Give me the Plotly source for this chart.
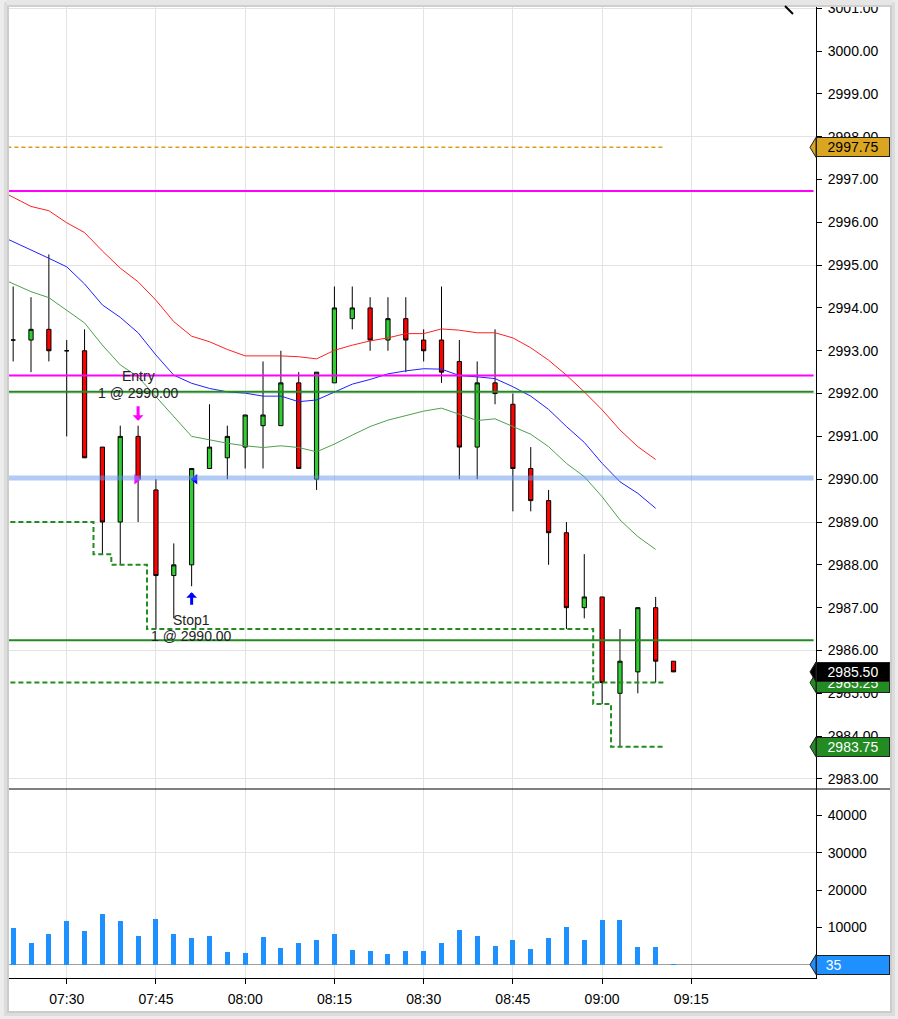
import plotly.graph_objects as go
import pandas as pd

DAY = "2019-06-03 "

# ---------------- data ----------------
bar_times = ["07:21", "07:24", "07:27", "07:30", "07:33", "07:36", "07:39", "07:42",
             "07:45", "07:48", "07:51", "07:54", "07:57", "08:00", "08:03", "08:06",
             "08:09", "08:12", "08:15", "08:18", "08:21", "08:24", "08:27", "08:30",
             "08:33", "08:36", "08:39", "08:42", "08:45", "08:48", "08:51", "08:54",
             "08:57", "09:00", "09:03", "09:06", "09:09", "09:12"]
opens = [2993.25, 2993.25, 2993.50, 2993.00, 2993.00, 2990.75, 2989.00, 2991.00,
         2989.75, 2987.75, 2988.00, 2990.25, 2990.50, 2990.75, 2991.25, 2991.25,
         2992.25, 2990.00, 2992.25, 2993.75, 2994.00, 2993.25, 2993.75, 2993.25,
         2993.25, 2992.75, 2990.75, 2992.25, 2991.75, 2990.25, 2989.50, 2988.75,
         2987.00, 2987.25, 2985.00, 2985.50, 2987.00, 2985.75]
highs = [2994.50, 2994.25, 2995.25, 2993.25, 2993.50, 2990.75, 2991.25, 2991.25,
         2990.00, 2988.50, 2990.25, 2991.75, 2991.25, 2991.50, 2992.75, 2993.00,
         2992.50, 2992.50, 2994.50, 2994.50, 2994.25, 2994.25, 2994.25, 2993.50,
         2994.50, 2993.25, 2992.75, 2993.50, 2992.00, 2990.75, 2989.75, 2989.00,
         2988.25, 2987.25, 2986.50, 2987.00, 2987.25, 2985.75]
lows = [2992.75, 2992.50, 2992.75, 2991.00, 2990.50, 2988.25, 2988.00, 2989.00,
        2986.50, 2986.75, 2987.50, 2990.25, 2990.00, 2990.25, 2990.25, 2991.25,
        2990.25, 2989.75, 2992.25, 2993.50, 2993.00, 2993.00, 2992.50, 2992.75,
        2992.25, 2990.00, 2990.00, 2991.75, 2989.25, 2989.25, 2988.00, 2986.50,
        2986.75, 2984.75, 2983.75, 2985.00, 2985.25, 2985.50]
closes = [2993.25, 2993.50, 2993.00, 2993.00, 2990.50, 2989.00, 2991.00, 2990.00,
          2987.75, 2988.00, 2990.25, 2990.75, 2991.00, 2991.50, 2991.50, 2992.25,
          2990.25, 2992.50, 2994.00, 2994.00, 2993.25, 2993.75, 2993.25, 2993.00,
          2992.50, 2990.75, 2992.25, 2992.00, 2990.25, 2989.50, 2988.75, 2987.00,
          2987.25, 2985.25, 2985.75, 2987.00, 2985.75, 2985.50]
volumes = [9900, 5900, 8300, 11700, 9100, 13600, 11700, 7700, 12300, 8300, 7200, 7700,
           3500, 3200, 7500, 4500, 5900, 6700, 8300, 4000, 3700, 2900, 3700, 3700,
           5900, 9300, 7700, 5100, 6700, 4300, 7200, 10100, 6700, 12000, 12000, 4800,
           4800, 35]

ma_times = ["07:18", "07:21", "07:24", "07:27", "07:30", "07:33", "07:36", "07:39",
            "07:42", "07:45", "07:48", "07:51", "07:54", "07:57", "08:00", "08:03",
            "08:06", "08:09", "08:12", "08:15", "08:18", "08:21", "08:24", "08:27",
            "08:30", "08:33", "08:36", "08:39", "08:42", "08:45", "08:48", "08:51",
            "08:54", "08:57", "09:00", "09:03", "09:06", "09:09"]
ma_red = [2996.80, 2996.58, 2996.37, 2996.27, 2995.99, 2995.76, 2995.33, 2994.93,
          2994.61, 2994.18, 2993.68, 2993.34, 2993.21, 2993.03, 2992.88, 2992.88,
          2992.88, 2992.86, 2992.81, 2993.01, 2993.13, 2993.23, 2993.30, 2993.40,
          2993.40, 2993.51, 2993.48, 2993.42, 2993.42, 2993.30, 2993.07, 2992.78,
          2992.43, 2992.04, 2991.62, 2991.15, 2990.76, 2990.46]
ma_blue = [2995.74, 2995.55, 2995.36, 2995.16, 2994.96, 2994.56, 2994.07, 2993.78,
           2993.42, 2992.90, 2992.43, 2992.24, 2992.12, 2992.04, 2992.01, 2991.94,
           2991.94, 2991.81, 2991.85, 2992.04, 2992.22, 2992.33, 2992.46, 2992.53,
           2992.58, 2992.57, 2992.42, 2992.39, 2992.35, 2992.16, 2991.94, 2991.63,
           2991.23, 2990.86, 2990.37, 2989.94, 2989.67, 2989.32]
ma_green = [2994.75, 2994.57, 2994.38, 2994.24, 2993.95, 2993.65, 2993.13, 2992.67,
            2992.39, 2991.93, 2991.46, 2991.00, 2990.92, 2990.84, 2990.78, 2990.74,
            2990.78, 2990.74, 2990.64, 2990.82, 2991.03, 2991.23, 2991.38, 2991.48,
            2991.59, 2991.66, 2991.51, 2991.37, 2991.41, 2991.23, 2991.05, 2990.76,
            2990.37, 2990.06, 2989.59, 2989.05, 2988.66, 2988.36]
stop_values = [2989.00, 2989.00, 2989.00, 2989.00, 2989.00, 2989.00, 2988.25, 2988.00,
               2988.00, 2986.50, 2986.50, 2986.50, 2986.50, 2986.50, 2986.50, 2986.50,
               2986.50, 2986.50, 2986.50, 2986.50, 2986.50, 2986.50, 2986.50, 2986.50,
               2986.50, 2986.50, 2986.50, 2986.50, 2986.50, 2986.50, 2986.50, 2986.50,
               2986.50, 2986.50, 2984.75, 2983.75, 2983.75, 2983.75]

target_level = 2985.25
orange_level = 2997.75
magenta_levels = [2996.73, 2992.42]
green_levels = [2992.04, 2986.24]
entry_level = 2990.03

entry_time, entry_price, entry_qty = "07:42", 2990.00, 1
exit_time, exit_price, exit_qty = "07:51", 2990.00, 1

time_ticks = ["07:30", "07:45", "08:00", "08:15", "08:30", "08:45", "09:00", "09:15"]
price_ticks = [2983 + i for i in range(19)]
vol_ticks = [10000, 20000, 30000, 40000]

# ---------------- helpers ----------------
def ts(s):
    return pd.Timestamp(DAY + s)

W, H = 898, 1019
L, R, T, B = 9, 82, 7, 41
PW, PH = W - L - R, H - T - B
split = (978 - 789) / PH


def px(xp):
    return (xp - L) / PW


def py(yp):
    return (H - B - yp) / PH


half = pd.Timedelta(minutes=1.5)
bt = [ts(t) for t in bar_times]
mt = [ts(t) for t in ma_times]
edge_x = [t - half for t in mt] + [mt[-1] + half]
line_start, line_end = mt[0] - half, mt[-1] + half
xr = [ts("07:20:18"), ts("09:35:57")]
tv = [ts(t) for t in time_ticks]

GRID = "#e3e3e3"
FONT = "Liberation Sans, Arial, sans-serif"

fig = go.Figure()

# moving averages (under candles)
for vals, col in [(ma_red, "#ff2020"), (ma_blue, "#2020ff"), (ma_green, "#4ea04e")]:
    fig.add_trace(go.Scatter(x=mt, y=vals, mode="lines", line=dict(color=col, width=1),
                             xaxis="x", yaxis="y", hoverinfo="skip"))

fig.add_trace(go.Candlestick(
    x=bt, open=opens, high=highs, low=lows, close=closes,
    increasing=dict(fillcolor="#32CD32", line=dict(color="black", width=1)),
    decreasing=dict(fillcolor="#FF0000", line=dict(color="black", width=1)),
    whiskerwidth=0, xaxis="x", yaxis="y"))

dash = "5px,3px"
fig.add_trace(go.Scatter(x=[line_start, line_end], y=[orange_level] * 2, mode="lines",
                         line=dict(color="#E09A1A", width=1.5, dash="4px,3px"),
                         xaxis="x", yaxis="y"))
fig.add_trace(go.Scatter(x=[line_start, line_end], y=[target_level] * 2, mode="lines",
                         line=dict(color="#228B22", width=2, dash=dash),
                         xaxis="x", yaxis="y"))
fig.add_trace(go.Scatter(x=edge_x, y=stop_values + [stop_values[-1]], mode="lines",
                         line=dict(color="#228B22", width=2, dash=dash, shape="hv"),
                         xaxis="x", yaxis="y"))

# execution triangles
fig.add_trace(go.Scatter(x=[ts(entry_time) - pd.Timedelta(seconds=15)], y=[entry_price],
                         mode="markers", marker=dict(symbol="triangle-right", size=9,
                                                     color="#FF00FF"),
                         xaxis="x", yaxis="y"))
fig.add_trace(go.Scatter(x=[ts(exit_time) + pd.Timedelta(seconds=34)], y=[exit_price],
                         mode="markers", marker=dict(symbol="triangle-left", size=9,
                                                     color="#0000FF"),
                         xaxis="x", yaxis="y"))

# volume
fig.add_trace(go.Bar(x=bt, y=volumes, width=50400, marker=dict(color="#1E90FF", line_width=0),
                     xaxis="x2", yaxis="y2"))

# ---------------- shapes ----------------
shapes = [
    dict(type="rect", xref="paper", yref="paper", x0=px(4), x1=px(895), y0=py(2), y1=py(1016),
         fillcolor="#dcdcdc", line_width=0, layer="below"),
    dict(type="rect", xref="paper", yref="paper", x0=px(7), x1=px(892), y0=py(5), y1=py(1013),
         fillcolor="#cccccc", line_width=0, layer="below"),
    dict(type="rect", xref="paper", yref="paper", x0=px(9), x1=px(890), y0=py(7), y1=py(1011),
         fillcolor="white", line_width=0, layer="below"),
]
for lv in magenta_levels:
    shapes.append(dict(type="line", xref="paper", yref="y", x0=0, x1=0.997, y0=lv, y1=lv,
                       line=dict(color="#FF00FF", width=2), layer="above"))
for lv in green_levels:
    shapes.append(dict(type="line", xref="paper", yref="y", x0=0, x1=0.997, y0=lv, y1=lv,
                       line=dict(color="#228B22", width=2), layer="above"))
shapes.append(dict(type="line", xref="paper", yref="y", x0=0, x1=0.997, y0=entry_level,
                   y1=entry_level, line=dict(color="rgba(100,149,237,0.5)", width=5),
                   layer="above"))
# top edge of the card
shapes.append(dict(type="rect", xref="paper", yref="paper", x0=px(7), x1=px(892), y0=py(0),
                   y1=py(5), fillcolor="#e6e6e6", line_width=0, layer="above"))
shapes.append(dict(type="rect", xref="paper", yref="paper", x0=px(7), x1=px(892), y0=py(5),
                   y1=py(7), fillcolor="#cfcfcf", line_width=0, layer="above"))
# pane divider
shapes.append(dict(type="line", xref="paper", yref="paper", x0=px(9), x1=px(890),
                   y0=split, y1=split, line=dict(color="black", width=1), layer="above"))
# collapse chevron
shapes.append(dict(type="line", xref="paper", yref="paper", x0=px(785), x1=px(793),
                   y0=py(6), y1=py(14), line=dict(color="black", width=2), layer="above"))

# price label tips + boxes
labels = [
    (orange_level, "y", "#DAA520", "black"),
    (target_level, "y", "#228B22", "white"),
    (closes[-1], "y", "#000000", "white"),
    (stop_values[-1], "y", "#228B22", "white"),
    (volumes[-1], "y2", "#1E90FF", "white"),
]
annotations = []
for val, yref, bg, fg in labels:
    shapes.append(dict(type="path", xref="paper", yref=yref, xsizemode="pixel",
                       ysizemode="pixel", xanchor=1, yanchor=val,
                       path="M 0,-10 L -6,0 L 0,10 Z", fillcolor=bg,
                       line=dict(color="#202020", width=1), layer="above"))
    if yref == "y":
        txt, al = f"{val:.2f}", "center"
    else:
        txt, al = f"&nbsp;&nbsp;{val:d}", "left"
    annotations.append(dict(xref="paper", yref=yref, x=1, y=val, xanchor="left",
                            yanchor="middle", text=txt, showarrow=False, width=70, height=16,
                            align=al, bgcolor=bg, bordercolor="#202020", borderwidth=1,
                            borderpad=1, font=dict(color=fg, size=14, family=FONT)))

# trade texts & arrows
ei = bar_times.index(entry_time)
xi = bar_times.index(exit_time)
tfont = dict(size=14, color="#222", family=FONT)
annotations += [
    dict(x=ts(entry_time), y=highs[ei], xref="x", yref="y", text="Entry", showarrow=False,
         yshift=50, font=tfont),
    dict(x=ts(entry_time), y=highs[ei], xref="x", yref="y",
         text=f"{entry_qty} @ {entry_price:.2f}", showarrow=False, yshift=33, font=tfont),
    dict(x=ts(exit_time), y=lows[xi], xref="x", yref="y", text="Stop1", showarrow=False,
         yshift=-34, font=tfont),
    dict(x=ts(exit_time), y=lows[xi], xref="x", yref="y",
         text=f"{exit_qty} @ {exit_price:.2f}", showarrow=False, yshift=-50, font=tfont),
    dict(x=ts(entry_time), y=highs[ei], xref="x", yref="y", text="", showarrow=True,
         arrowhead=1, arrowsize=0.6, arrowwidth=3, arrowcolor="#FF00FF", ax=0, ay=-16,
         yshift=5),
    dict(x=ts(exit_time), y=lows[xi], xref="x", yref="y", text="", showarrow=True,
         arrowhead=1, arrowsize=0.6, arrowwidth=3, arrowcolor="#0000FF", ax=0, ay=14,
         yshift=-6),
]

common_x = dict(type="date", range=xr, tickvals=tv, showgrid=True, automargin=False,
                gridcolor=GRID, gridwidth=1, zeroline=False)
fig.update_layout(
    width=W, height=H, margin=dict(l=L, r=R, t=T, b=B, autoexpand=False),
    paper_bgcolor="#ececec", plot_bgcolor="rgba(0,0,0,0)", showlegend=False,
    font=dict(family=FONT, size=14, color="#000"),
    boxgap=0.66, bargap=0,
    xaxis=dict(domain=[0, 1], anchor="y", showticklabels=False, ticks="",
               rangeslider=dict(visible=False), showline=False, **common_x),
    xaxis2=dict(domain=[0, 1], anchor="y2", matches="x", ticktext=time_ticks,
                showline=True, linecolor="black", linewidth=1, ticks="outside", ticklen=5,
                tickcolor="black", ticklabelstandoff=3, **common_x),
    yaxis=dict(domain=[split, 1], anchor="x", side="right", range=[2982.765, 3001.028],
               tickvals=price_ticks, tickformat=".2f", showgrid=False, zeroline=False,
               showline=True, linecolor="black", linewidth=1, ticks="outside", ticklen=5,
               tickcolor="black", ticklabelstandoff=3, automargin=False),
    yaxis3=dict(overlaying="y", anchor="x", side="right", range=[2982.765, 3001.028],
                tick0=2983, dtick=3, showgrid=True, gridcolor=GRID, showticklabels=False,
                ticks="", zeroline=False, showline=False, automargin=False),
    yaxis2=dict(domain=[0, split], anchor="x2", side="right", range=[-3560, 47070],
                tickvals=vol_ticks, tickformat="d", showgrid=False, zeroline=True,
                zerolinecolor="#a0a0a0", zerolinewidth=1, showline=True, linecolor="black",
                linewidth=1, ticks="outside", ticklen=5, tickcolor="black",
                ticklabelstandoff=3, automargin=False),
    yaxis4=dict(overlaying="y2", anchor="x2", side="right", range=[-3560, 47070],
                tickvals=[30000], showgrid=True, gridcolor=GRID, showticklabels=False,
                ticks="", zeroline=False, showline=False, automargin=False),
    shapes=shapes, annotations=annotations,
)
# empty traces to activate the overlay grid axes
fig.add_trace(go.Scatter(x=[], y=[], xaxis="x", yaxis="y3"))
fig.add_trace(go.Scatter(x=[], y=[], xaxis="x2", yaxis="y4"))

fig.write_html("out.html", config={"displayModeBar": False},
               post_script="document.body.style.margin='0';document.body.style.padding='0';"
                           "document.body.style.overflow='hidden';")
